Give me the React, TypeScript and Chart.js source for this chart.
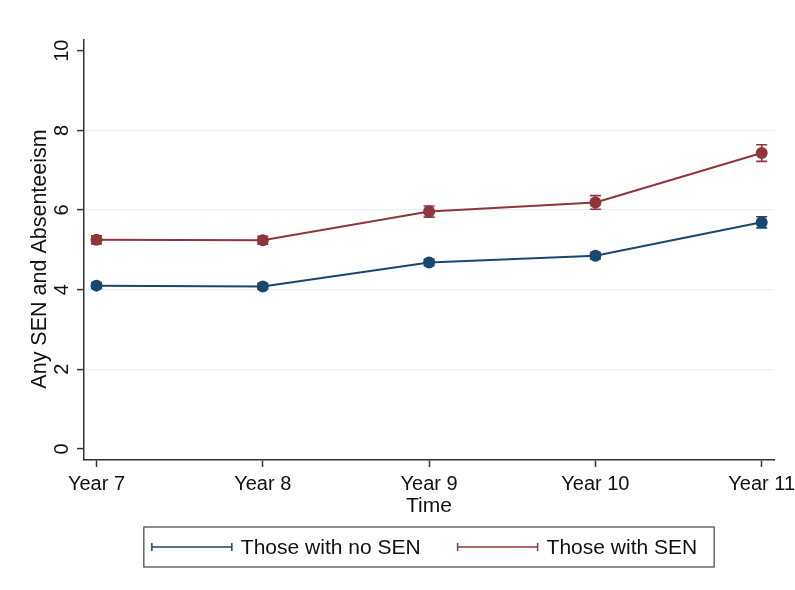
import React, { useEffect, useRef } from 'react';
import { Chart, registerables } from 'chart.js';

Chart.register(...registerables);

const years = [7, 8, 9, 10, 11];
const yearLabels = ['Year 7', 'Year 8', 'Year 9', 'Year 10', 'Year 11'];
const seriesLabels = ['Those with no SEN', 'Those with SEN'];
const seriesColors = ['#1a476f', '#90353b'];

const noSenMean = [4.10, 4.08, 4.68, 4.85, 5.69];
const noSenLow = [4.03, 4.01, 4.60, 4.77, 5.55];
const noSenHigh = [4.17, 4.15, 4.76, 4.93, 5.83];

const senMean = [5.25, 5.24, 5.96, 6.19, 7.43];
const senLow = [5.15, 5.14, 5.82, 6.02, 7.22];
const senHigh = [5.35, 5.34, 6.10, 6.36, 7.64];

const yTicks = [0, 2, 4, 6, 8, 10];
const gridValues = [2, 4, 6, 8];

const yTitle = 'Any SEN and Absenteeism';
const xTitle = 'Time';

const lows = [noSenLow, senLow];
const highs = [noSenHigh, senHigh];

const FONT = "'Liberation Sans', Arial, sans-serif";

const errorBarsPlugin = {
  id: 'errorBars',
  beforeDatasetsDraw(chart: any) {
    const { ctx } = chart;
    const x = chart.scales.x;
    const y = chart.scales.y;
    chart.data.datasets.forEach((ds: any, i: number) => {
      ctx.save();
      ctx.strokeStyle = ds.borderColor;
      ctx.lineWidth = 1.6;
      years.forEach((yr, j) => {
        const px = x.getPixelForValue(yr);
        const pl = y.getPixelForValue(lows[i][j]);
        const ph = y.getPixelForValue(highs[i][j]);
        ctx.beginPath();
        ctx.moveTo(px, pl);
        ctx.lineTo(px, ph);
        ctx.moveTo(px - 5.5, pl);
        ctx.lineTo(px + 5.5, pl);
        ctx.moveTo(px - 5.5, ph);
        ctx.lineTo(px + 5.5, ph);
        ctx.stroke();
      });
      ctx.restore();
    });
  },
};

const decorPlugin = {
  id: 'decor',
  afterDraw(chart: any) {
    const { ctx, chartArea } = chart;
    ctx.save();
    // y-axis title
    ctx.font = `21.5px ${FONT}`;
    ctx.fillStyle = '#111';
    ctx.textAlign = 'center';
    ctx.textBaseline = 'middle';
    ctx.translate(40, (chartArea.top + chartArea.bottom) / 2 + 9);
    ctx.rotate(-Math.PI / 2);
    ctx.fillText(yTitle, 0, 0);
    ctx.restore();

    // legend
    ctx.save();
    ctx.font = `21px ${FONT}`;
    const seg = 80;
    const gapSegText = 9;
    const gapItems = 37;
    const widths = seriesLabels.map((l) => ctx.measureText(l).width);
    const content = widths.reduce((a, w) => a + seg + gapSegText + w, 0) + gapItems;
    const boxW = content + 8 + 17;
    const boxH = 40;
    const cx = (chartArea.left + chartArea.right) / 2;
    const boxL = cx - boxW / 2;
    const boxT = chartArea.bottom + 67;
    ctx.strokeStyle = '#444';
    ctx.lineWidth = 1.2;
    ctx.fillStyle = '#ffffff';
    ctx.fillRect(boxL, boxT, boxW, boxH);
    ctx.strokeRect(boxL, boxT, boxW, boxH);
    let px = boxL + 8;
    const my = boxT + boxH / 2;
    seriesLabels.forEach((label, i) => {
      ctx.strokeStyle = seriesColors[i];
      ctx.lineWidth = 1.5;
      ctx.beginPath();
      ctx.moveTo(px, my);
      ctx.lineTo(px + seg, my);
      ctx.moveTo(px, my - 4);
      ctx.lineTo(px, my + 4);
      ctx.moveTo(px + seg, my - 4);
      ctx.lineTo(px + seg, my + 4);
      ctx.stroke();
      px += seg + gapSegText;
      ctx.fillStyle = '#111';
      ctx.textAlign = 'left';
      ctx.textBaseline = 'middle';
      ctx.fillText(label, px, my + 1);
      px += widths[i] + gapItems;
    });
    ctx.restore();
  },
};

export default function App() {
  const canvasRef = useRef<HTMLCanvasElement | null>(null);

  useEffect(() => {
    document.body.style.margin = '0';
    const canvas = canvasRef.current;
    if (!canvas) return;
    const makeData = (vals: number[]) => years.map((yr, i) => ({ x: yr, y: vals[i] }));
    const chart = new Chart(canvas, {
      type: 'line',
      data: {
        datasets: [
          {
            label: seriesLabels[0],
            data: makeData(noSenMean),
            borderColor: seriesColors[0],
            backgroundColor: seriesColors[0],
            borderWidth: 2,
            pointRadius: 6,
            pointBorderWidth: 0,
            pointBackgroundColor: seriesColors[0],
            tension: 0,
          },
          {
            label: seriesLabels[1],
            data: makeData(senMean),
            borderColor: seriesColors[1],
            backgroundColor: seriesColors[1],
            borderWidth: 2,
            pointRadius: 6,
            pointBorderWidth: 0,
            pointBackgroundColor: seriesColors[1],
            tension: 0,
          },
        ],
      },
      options: {
        animation: false,
        responsive: false,
        devicePixelRatio: 1,
        layout: { padding: { left: 0, top: 40, right: 21, bottom: 0 } },
        plugins: {
          legend: { display: false },
          tooltip: { enabled: false },
        },
        scales: {
          x: {
            type: 'linear',
            min: 6.925,
            max: 11.074,
            afterBuildTicks: (scale: any) => {
              scale.ticks = years.map((v) => ({ value: v }));
            },
            afterFit: (scale: any) => {
              scale.height = 130;
              scale.paddingLeft = 0;
              scale.paddingRight = 0;
            },
            ticks: {
              autoSkip: false,
              maxRotation: 0,
              minRotation: 0,
              padding: 5,
              color: '#111',
              font: { family: FONT, size: 20 },
              callback: (v: any) => {
                const idx = years.indexOf(Number(v));
                return idx >= 0 ? yearLabels[idx] : '';
              },
            },
            grid: {
              drawOnChartArea: false,
              drawTicks: true,
              tickLength: 7,
              tickColor: '#333',
              tickWidth: 1.5,
            },
            border: { display: true, color: '#333', width: 1.5 },
            title: {
              display: true,
              text: xTitle,
              color: '#111',
              font: { family: FONT, size: 21 },
              padding: { top: 0, bottom: 71 },
            },
          },
          y: {
            type: 'linear',
            min: -0.28,
            max: 10.27,
            afterBuildTicks: (scale: any) => {
              scale.ticks = yTicks.map((v) => ({ value: v }));
            },
            afterFit: (scale: any) => {
              scale.width = 84;
              scale.paddingTop = 0;
              scale.paddingBottom = 0;
            },
            ticks: {
              autoSkip: false,
              minRotation: 90,
              maxRotation: 90,
              crossAlign: 'center',
              padding: 3,
              color: '#111',
              font: { family: FONT, size: 20 },
              callback: (v: any) => String(v),
            },
            grid: {
              drawOnChartArea: true,
              drawTicks: true,
              tickLength: 7,
              tickColor: '#333',
              tickWidth: 1.5,
              lineWidth: 1.2,
              color: (ctx: any) =>
                ctx.tick && gridValues.includes(ctx.tick.value) ? '#e6eff2' : 'rgba(0,0,0,0)',
            },
            border: { display: true, color: '#333', width: 1.5 },
          },
        },
      },
      plugins: [errorBarsPlugin, decorPlugin],
    } as any);
    return () => chart.destroy();
  }, []);

  return (
    <div style={{ width: 795, height: 590, background: '#fff' }}>
      <canvas ref={canvasRef} width={795} height={590} style={{ display: 'block' }} />
    </div>
  );
}
